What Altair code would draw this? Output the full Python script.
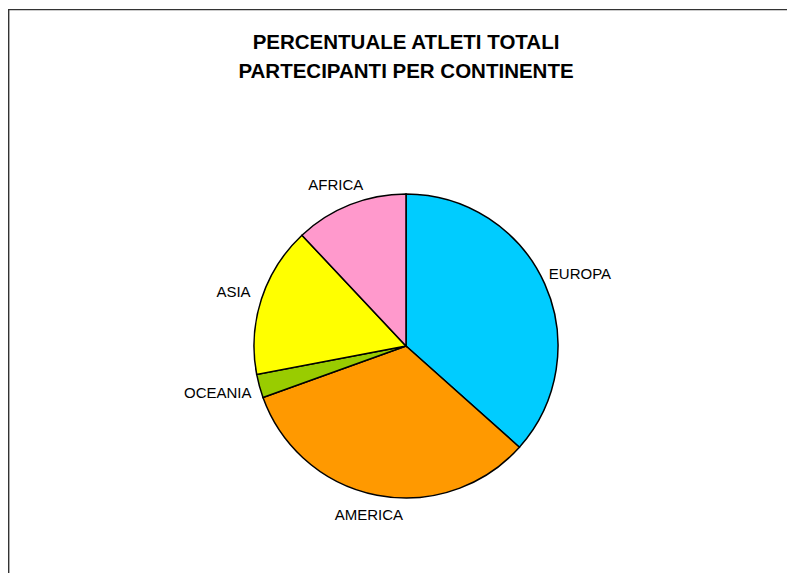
import altair as alt
import pandas as pd

continents = ["EUROPA", "AMERICA", "OCEANIA", "ASIA", "AFRICA"]
percent = [36.6, 32.9, 2.5, 16.0, 12.0]
colors = ["#00CCFF", "#FF9900", "#99CC00", "#FFFF00", "#FF99CC"]
title_lines = ["PERCENTUALE ATLETI TOTALI", "PARTECIPANTI  PER  CONTINENTE"]

df = pd.DataFrame({"continent": continents, "value": percent, "idx": list(range(len(continents)))})

W, H = 779, 565
CX, CY = 398, 338
R = 152

base = alt.Chart(df)

frame = base.transform_filter("datum.idx == 0").mark_rect(
    fillOpacity=0, stroke="#333333", strokeWidth=1.4
).encode(x=alt.value(0.7), y=alt.value(1.6), x2=alt.value(W + 50), y2=alt.value(H + 50))

title = base.transform_filter("datum.idx == 0").mark_text(
    font="Liberation Sans", fontSize=20.5, fontWeight="bold", color="black",
    align="center", baseline="alphabetic", lineHeight=29,
).encode(x=alt.value(CX), y=alt.value(41), text=alt.value(title_lines))

pie = base.mark_arc(outerRadius=R, stroke="black", strokeWidth=1.5).encode(
    theta=alt.Theta("value:Q", stack=True),
    color=alt.Color("continent:N", scale=alt.Scale(domain=continents, range=colors), legend=None),
    order=alt.Order("idx:Q"),
    x=alt.value(CX),
    y=alt.value(CY),
)

labels = base.transform_window(
    cum="sum(value)", sort=[alt.SortField("idx")]
).transform_joinaggregate(
    total="sum(value)"
).transform_calculate(
    mid="2*PI*(datum.cum - datum.value/2)/datum.total"
).transform_calculate(
    lx=f"{CX} + (163 + 4.6*length(datum.continent))*sin(datum.mid)",
    ly=f"{CY} - (170.5 + 6*abs(sin(datum.mid)))*cos(datum.mid)",
).mark_text(
    font="Liberation Sans", fontSize=15, color="black", align="center", baseline="middle"
).encode(
    x=alt.X("lx:Q", scale=None, axis=None),
    y=alt.Y("ly:Q", scale=None, axis=None),
    text="continent:N",
)

chart = alt.layer(frame, pie, labels, title).properties(
    width=W,
    height=H,
    autosize=alt.AutoSizeParams(type="none"),
    padding=0,
    background="white",
).configure_view(stroke=None)

chart.save("out.html", embed_options={"renderer": "svg", "actions": False})
